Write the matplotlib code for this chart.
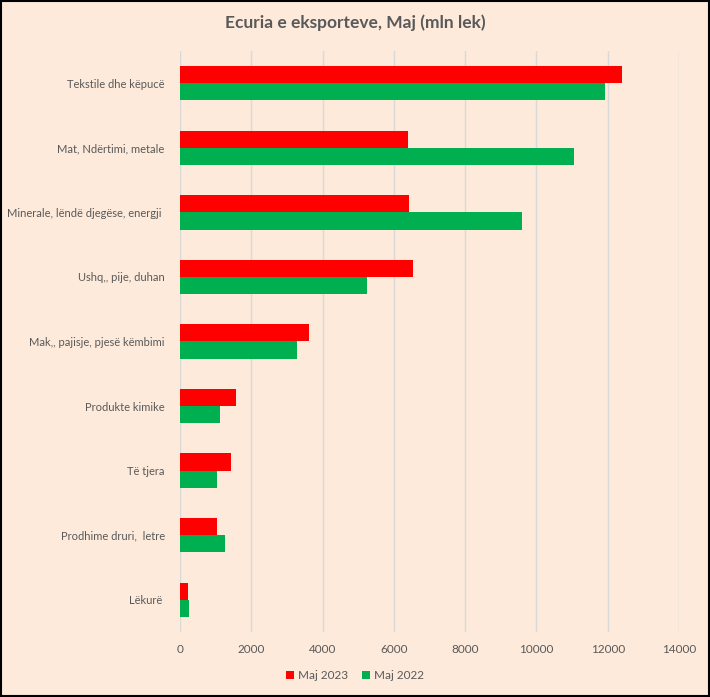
import matplotlib.pyplot as plt
import numpy as np

categories = ["Tekstile dhe këpucë", "Mat, Ndërtimi, metale", "Minerale, lëndë djegëse, energji ",
              "Ushq,, pije, duhan", "Mak,, pajisje, pjesë këmbimi", "Produkte kimike",
              "Të tjera", "Prodhime druri,  letre", "Lëkurë "]
maj_2023 = [12390, 6410, 6430, 6545, 3615, 1560, 1445, 1025, 235]
maj_2022 = [11935, 11050, 9590, 5250, 3275, 1135, 1050, 1275, 265]
xticks = [0, 2000, 4000, 6000, 8000, 10000, 12000, 14000]

bg = "#FDEADB"
plt.rcParams['font.family'] = ['Lato', 'DejaVu Sans']

fig = plt.figure(figsize=(7.1, 6.97), dpi=100, facecolor=bg)
ax = fig.add_axes([0.2535, 0.0933, 0.7028, 0.8335], facecolor=bg)

y = np.arange(len(categories))
h = 0.265
ax.barh(y - h / 2, maj_2023, height=h, color="#FF0000", label="Maj 2023", zorder=3)
ax.barh(y + h / 2, maj_2022, height=h, color="#00B050", label="Maj 2022", zorder=3)

ax.set_ylim(len(categories) - 0.5, -0.5)
ax.set_xlim(0, 14000)
ax.set_xticks(xticks)
ax.set_yticks(y)
ax.set_yticklabels(categories)
ax.tick_params(axis='both', length=0, labelsize=8, colors="#595959")
ax.tick_params(axis='x', labelsize=8.5, pad=9)
ax.tick_params(axis='y', pad=11)
ax.grid(axis='x', color="#D9D9D9", linewidth=1, zorder=0)
for s in ax.spines.values():
    s.set_visible(False)

fig.text(0.5, 0.967, "Ecuria e eksporteve, Maj (mln lek)", ha='center', va='center',
         fontsize=12.5, fontweight='bold', color="#595959")

leg = fig.legend(loc='center', bbox_to_anchor=(0.5, 0.031), ncol=2, frameon=False,
                 fontsize=8.5, handlelength=0.7, handleheight=0.7, handletextpad=0.3,
                 columnspacing=1.2)
for t in leg.get_texts():
    t.set_color("#595959")

# black border around the whole chart
fig.patches.append(plt.Rectangle((0.002, 0.002), 0.996, 0.996, transform=fig.transFigure,
                                 fill=False, edgecolor="black", linewidth=1.5))

fig.savefig("out.png", dpi=100, facecolor=bg)
